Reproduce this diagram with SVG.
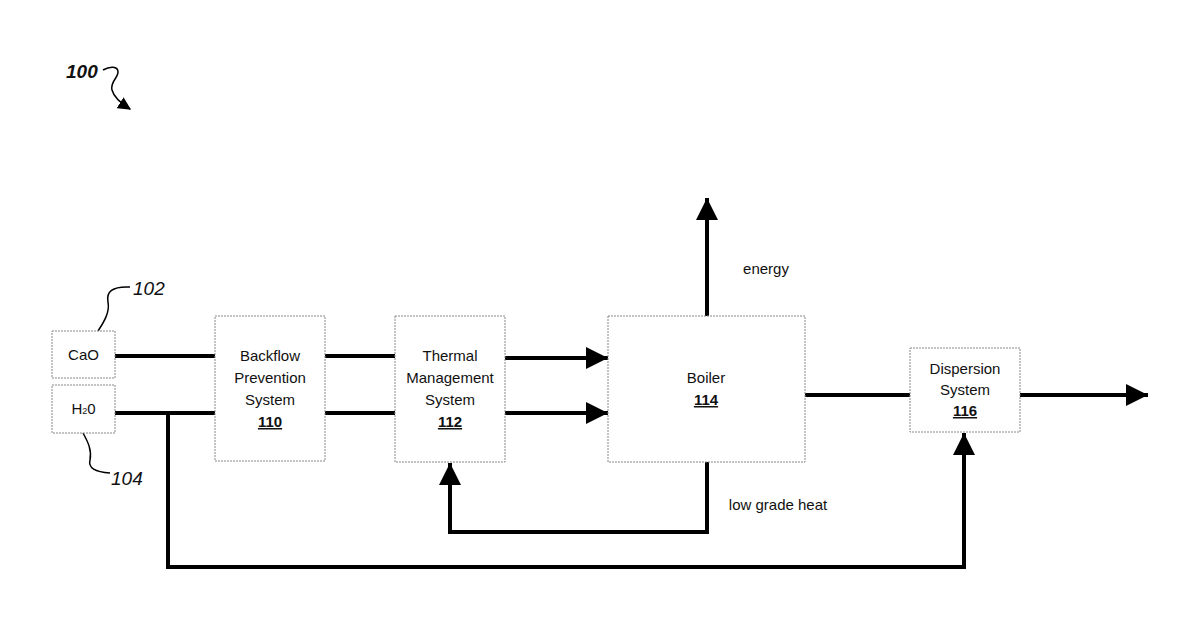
<svg xmlns="http://www.w3.org/2000/svg" width="1200" height="630" viewBox="0 0 1200 630">
<style>
.box{fill:#fff;stroke:#888;stroke-width:1;stroke-dasharray:2 1}
.t{font-family:"Liberation Sans",Arial,sans-serif;font-size:15px;fill:#111;text-anchor:middle}
.n{font-weight:bold;text-decoration:underline}
.ref{font-family:"Liberation Sans",Arial,sans-serif;font-size:19px;font-style:italic;fill:#111}
.c{fill:none;stroke:#000;stroke-width:4}
.l{fill:none;stroke:#000;stroke-width:1.5}
</style>
<defs>
<marker id="a" viewBox="0 0 10 10" refX="10" refY="5" markerWidth="5.5" markerHeight="5.5" orient="auto" markerUnits="strokeWidth"><path d="M0,0 L10,5 L0,10 z" fill="#000"/></marker>
<marker id="s" viewBox="0 0 10 10" refX="9" refY="5" markerWidth="13" markerHeight="13" orient="auto" markerUnits="userSpaceOnUse"><path d="M0,0 L10,5 L0,10 z" fill="#000"/></marker>
</defs>
<g id="label100"><text class="ref" x="66" y="78" font-weight="bold">100</text>
<path class="l" d="M103,70 C110,66 118,66 118,72 C118,78 110,82 112,90 C114,98 122,104 130,109" marker-end="url(#s)"/></g>
<g id="connectors">
<path class="c" d="M115,356 H215 M325,356 H395 M115,413 H215 M325,413 H395"/>
<path class="c" d="M505,358 H608" marker-end="url(#a)"/>
<path class="c" d="M505,413 H608" marker-end="url(#a)"/>
<path class="c" d="M707,316 V198" marker-end="url(#a)"/>
<path class="c" d="M805,395 H910"/>
<path class="c" d="M1020,395 H1148" marker-end="url(#a)"/>
<path class="c" d="M707,462 V532 H450 V463" marker-end="url(#a)"/>
<path class="c" d="M168,413 V567 H964 V433" marker-end="url(#a)"/>
<path class="l" d="M98,331 C104,322 110,312 108,302 C106,292 112,286 130,287"/>
<path class="l" d="M83,433 C88,442 92,450 90,460 C88,468 95,472 110,473"/>
</g>
<g id="n102"><rect class="box" x="52" y="331" width="63" height="47"/><text class="t" x="83.5" y="360">CaO</text><text class="ref" x="133" y="295">102</text></g>
<g id="n104"><rect class="box" x="52" y="385" width="63" height="48"/><text class="t" x="83.5" y="414">H<tspan font-size="9">2</tspan>0</text><text class="ref" x="111" y="485">104</text></g>
<g id="n110"><rect class="box" x="215" y="316" width="110" height="145"/><text class="t" x="270" y="361">Backflow</text><text class="t" x="270" y="383">Prevention</text><text class="t" x="270" y="405">System</text><text class="t n" x="270" y="427">110</text></g>
<g id="n112"><rect class="box" x="395" y="316" width="110" height="146"/><text class="t" x="450" y="361">Thermal</text><text class="t" x="450" y="383">Management</text><text class="t" x="450" y="405">System</text><text class="t n" x="450" y="427">112</text></g>
<g id="n114"><rect class="box" x="608" y="316" width="197" height="146"/><text class="t" x="706" y="383">Boiler</text><text class="t n" x="706" y="405">114</text></g>
<g id="n116"><rect class="box" x="910" y="348" width="110" height="84"/><text class="t" x="965" y="374">Dispersion</text><text class="t" x="965" y="395">System</text><text class="t n" x="965" y="416">116</text></g>
<text class="t" x="766" y="274" font-size="12">energy</text>
<text class="t" x="778" y="510" font-size="12">low grade heat</text>
</svg>
